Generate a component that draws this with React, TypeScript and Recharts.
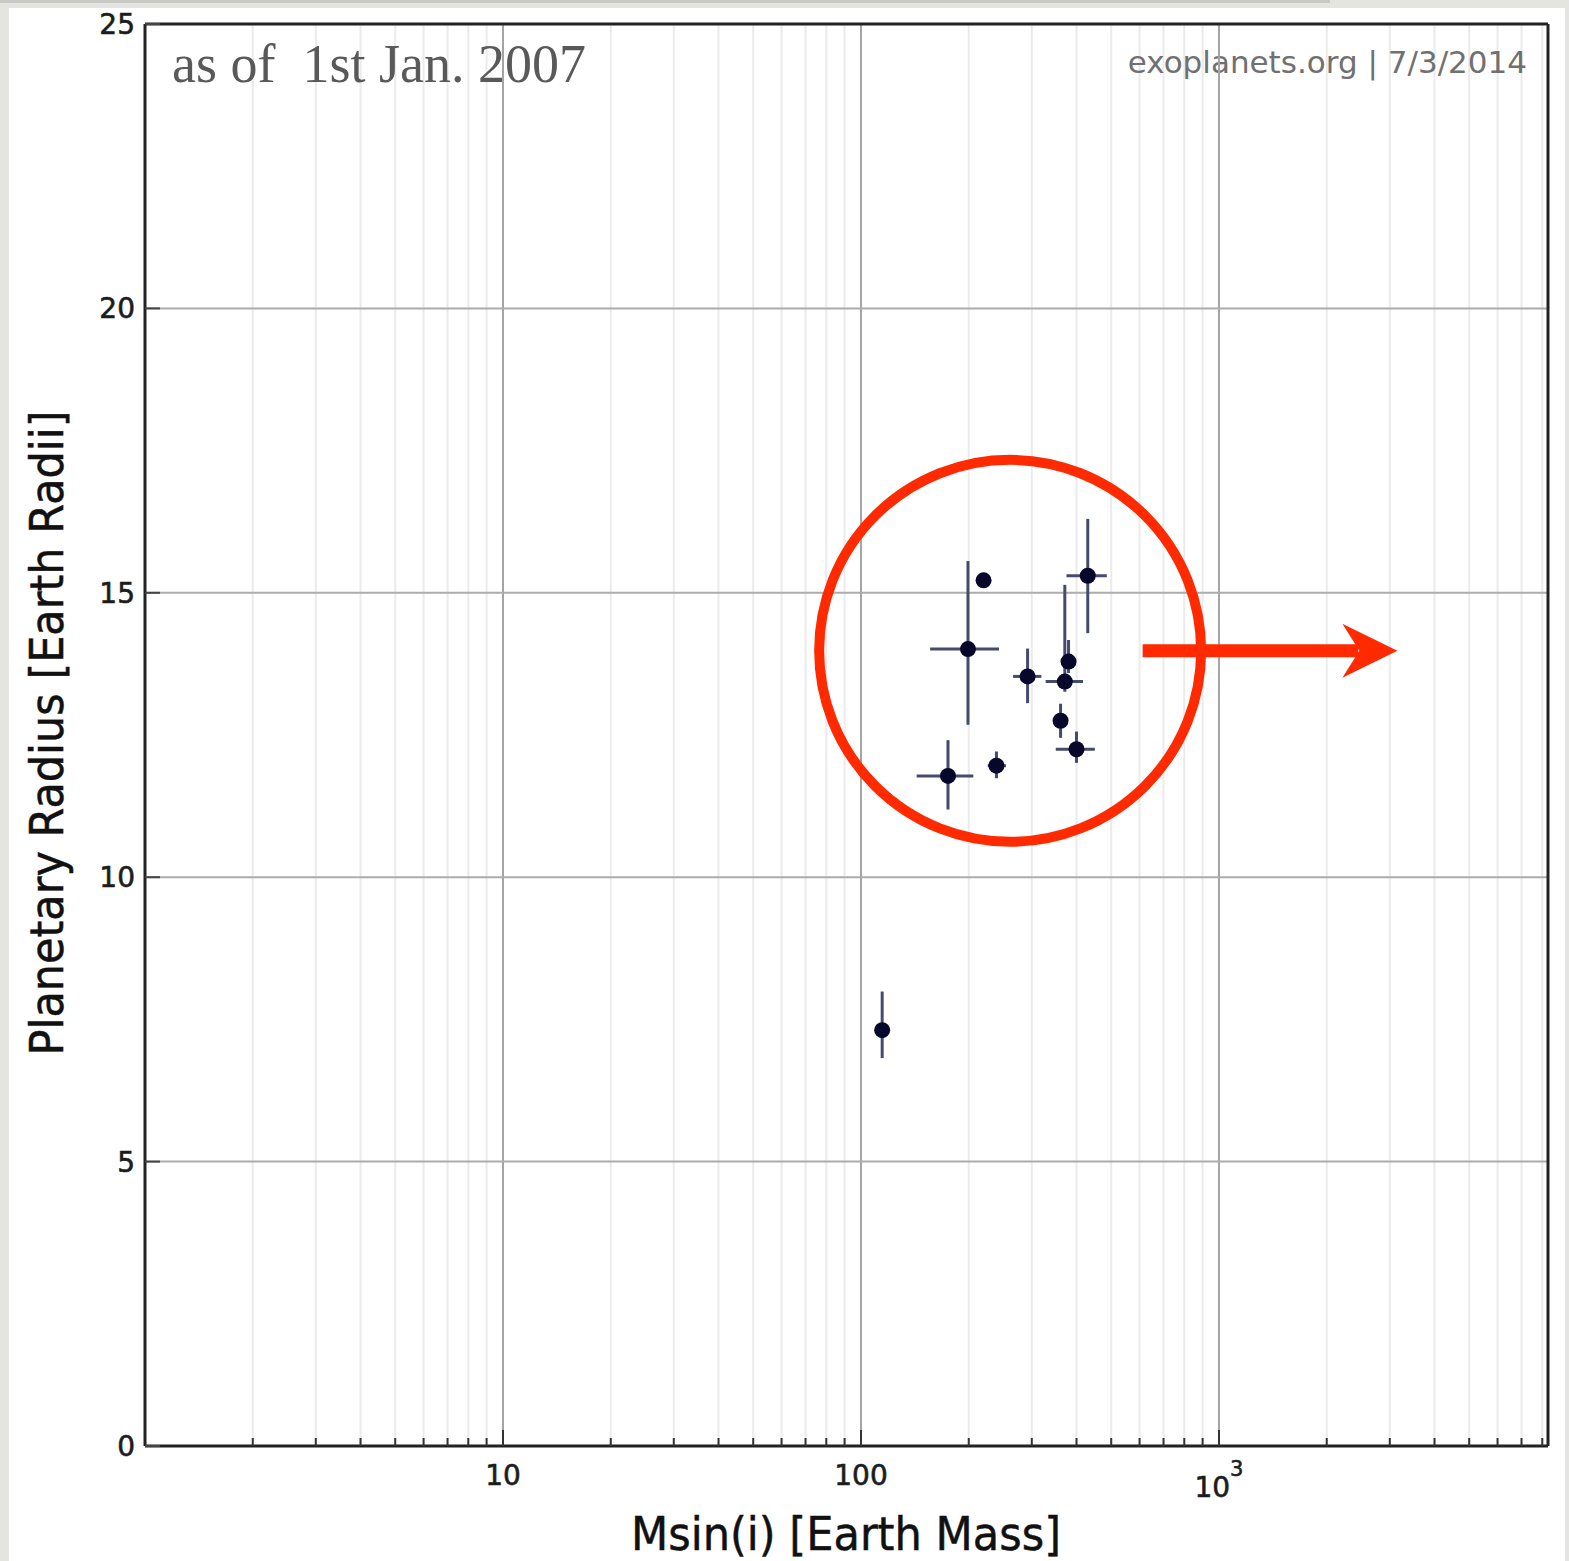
import {
  ScatterChart,
  Scatter,
  XAxis,
  YAxis,
  CartesianGrid,
  ErrorBar,
  ReferenceLine,
  ReferenceDot,
} from "recharts";

// planets known with both a mass and a radius, 1 Jan 2007
const mass = [114.6, 175, 199, 220, 239, 292, 361, 371, 380, 400, 430];
const radius = [7.31, 11.78, 14.01, 15.22, 11.96, 13.53, 12.75, 13.44, 13.79, 12.25, 15.3];
const massErrLow = [0, 32, 43, 0, 13, 26, 0, 43, 0, 50, 55];
const massErrHigh = [0, 31, 44, 0, 15, 27, 0, 46, 0, 50, 56];
const radiusErrLow = [0.49, 0.59, 1.33, 0, 0.22, 0.47, 0.3, 0.18, 0.2, 0.24, 1.01];
const radiusErrHigh = [0.68, 0.63, 1.55, 0, 0.25, 0.49, 0.3, 1.7, 0.38, 0.31, 1.0];

const massTicks = [
  2, 3, 4, 5, 6, 7, 8, 9, 10, 20, 30, 40, 50, 60, 70, 80, 90, 100, 200, 300, 400, 500, 600,
  700, 800, 900, 1000, 2000, 3000, 4000, 5000, 6000, 7000, 8000,
];
const majorMassTicks = [10, 100, 1000];
const radiusTicks = [0, 5, 10, 15, 20, 25];
const radiusGrid = [5, 10, 15, 20];

// red highlight ring and arrow, in data units
const ringCenter = { mass: 261, radius: 13.98 };
const arrowFrom = 612;
const arrowTo = 2450;
const arrowTip = 3150;

const data = mass.map((m, i) => ({
  mass: m,
  radius: radius[i],
  massErr: [massErrLow[i], massErrHigh[i]],
  radiusErr: [radiusErrLow[i], radiusErrHigh[i]],
}));

const W = 1569;
const H = 1561;
const tickFont = "'DejaVu Sans', Verdana, sans-serif";
const red = "#ff2a00";
const ink = "#1c1c1c";

const BottomTick = (props: any) => {
  const { x, y, payload } = props;
  const v = payload.value;
  const major = majorMassTicks.includes(v);
  let label = null;
  if (v === 1000) {
    label = (
      <text x={x} y={y + 51} textAnchor="middle" fontSize={28} fontFamily={tickFont} fill={ink} stroke={ink} strokeWidth={0.6}>
        10
        <tspan dy={-21} fontSize={21}>3</tspan>
      </text>
    );
  } else if (major) {
    label = (
      <text x={x} y={y + 39} textAnchor="middle" fontSize={28} fontFamily={tickFont} fill={ink} stroke={ink} strokeWidth={0.6}>
        {v}
      </text>
    );
  }
  return (
    <g>
      <line x1={x} y1={y} x2={x} y2={y - (major ? 16 : 8)} stroke="#333" strokeWidth={2} />
      {label}
    </g>
  );
};

const TopTick = (props: any) => {
  const { x, y, payload } = props;
  const major = majorMassTicks.includes(payload.value);
  return <line x1={x} y1={y} x2={x} y2={y + (major ? 16 : 8)} stroke="#333" strokeWidth={2} />;
};

const LeftTick = (props: any) => {
  const { x, y, payload } = props;
  return (
    <g>
      <line x1={x} y1={y} x2={x + 15} y2={y} stroke="#444" strokeWidth={2} />
      <text x={x - 10} y={y} dy="0.36em" textAnchor="end" fontSize={28} fontFamily={tickFont} fill={ink} stroke={ink} strokeWidth={0.6}>
        {payload.value}
      </text>
    </g>
  );
};

const RightTick = (props: any) => {
  const { x, y } = props;
  return <line x1={x} y1={y} x2={x - 15} y2={y} stroke="#444" strokeWidth={2} />;
};

const Planet = (p: any) => <circle cx={p.cx} cy={p.cy} r={8} fill="#07072b" />;

const ArrowHead = (p: any) => {
  const { cx, cy } = p;
  const pts = [
    [cx, cy],
    [cx - 55, cy - 27],
    [cx - 38, cy],
    [cx - 55, cy + 27],
  ]
    .map((q) => q.join(","))
    .join(" ");
  return <polygon points={pts} fill={red} />;
};

export default function App() {
  return (
    <div
      style={{
        position: "fixed",
        left: 0,
        top: 0,
        width: W,
        height: H,
        background: "#e4e4e0",
        overflow: "hidden",
      }}
    >
      <div style={{ position: "absolute", left: 0, top: 0, width: 1330, height: 3, background: "#c8c8c4" }} />
      <div style={{ position: "absolute", left: 9, top: 8, width: 1556, height: H - 8, background: "#fff" }} />
      <div style={{ position: "absolute", left: 0, top: 0 }}>
        <ScatterChart width={W} height={H} margin={{ top: 14, right: 11, bottom: 55, left: 85 }}>
          <CartesianGrid horizontal={false} stroke="#ebebeb" strokeWidth={2} />
          {majorMassTicks.map((v) => (
            <ReferenceLine key={"mx" + v} x={v} stroke="#a4a4a4" strokeWidth={2} />
          ))}
          {radiusGrid.map((v) => (
            <ReferenceLine key={"ry" + v} y={v} stroke="#acacac" strokeWidth={2} />
          ))}
          <XAxis
            dataKey="mass"
            type="number"
            scale="log"
            domain={[1, 8300]}
            allowDataOverflow
            ticks={massTicks}
            interval={0}
            height={60}
            tickSize={0}
            tickMargin={0}
            tickLine={false}
            tick={<BottomTick />}
            axisLine={{ stroke: "#222", strokeWidth: 3 }}
          />
          <XAxis
            xAxisId="top"
            orientation="top"
            type="number"
            scale="log"
            domain={[1, 8300]}
            allowDataOverflow
            ticks={massTicks}
            interval={0}
            height={10}
            tickSize={0}
            tickMargin={0}
            tickLine={false}
            tick={<TopTick />}
            axisLine={{ stroke: "#222", strokeWidth: 3 }}
          />
          <YAxis
            dataKey="radius"
            type="number"
            domain={[0, 25]}
            ticks={radiusTicks}
            interval={0}
            width={60}
            tickSize={0}
            tickMargin={0}
            tickLine={false}
            tick={<LeftTick />}
            axisLine={{ stroke: "#222", strokeWidth: 3 }}
          />
          <YAxis
            yAxisId="right"
            orientation="right"
            type="number"
            domain={[0, 25]}
            ticks={radiusTicks}
            interval={0}
            width={10}
            tickSize={0}
            tickMargin={0}
            tickLine={false}
            tick={<RightTick />}
            axisLine={{ stroke: "#222", strokeWidth: 3 }}
          />
          <Scatter data={data} shape={Planet} isAnimationActive={false}>
            <ErrorBar dataKey="massErr" direction="x" width={0} stroke="#464a6c" strokeWidth={3} isAnimationActive={false} />
            <ErrorBar dataKey="radiusErr" direction="y" width={0} stroke="#464a6c" strokeWidth={3} isAnimationActive={false} />
          </Scatter>
          <ReferenceDot
            x={ringCenter.mass}
            y={ringCenter.radius}
            r={191}
            fill="none"
            stroke={red}
            strokeWidth={10}
          />
          <ReferenceLine
            segment={[
              { x: arrowFrom, y: ringCenter.radius },
              { x: arrowTo, y: ringCenter.radius },
            ]}
            stroke={red}
            strokeWidth={13}
          />
          <ReferenceDot x={arrowTip} y={ringCenter.radius} shape={ArrowHead} />
          <text
            x={172}
            y={82}
            fontSize={54}
            fontFamily="'Liberation Serif', 'Times New Roman', serif"
            fill="#595959"
            style={{ whiteSpace: "pre" }}
          >
            {"as of  1st Jan. 2007"}
          </text>
          <text x={1527} y={73} textAnchor="end" fontSize={31} fontFamily={tickFont} fill="#707070">
            exoplanets.org | 7/3/2014
          </text>
          <text
            x={846}
            y={1550}
            textAnchor="middle"
            fontSize={46}
            fontFamily={tickFont}
            fill="#111"
            stroke="#111"
            strokeWidth={0.5}
            textLength={430}
            lengthAdjust="spacingAndGlyphs"
          >
            Msin(i) [Earth Mass]
          </text>
          <text
            x={0}
            y={0}
            transform="translate(63 733) rotate(-90)"
            textAnchor="middle"
            fontSize={46}
            fontFamily={tickFont}
            fill="#111"
            stroke="#111"
            strokeWidth={0.5}
            textLength={645}
            lengthAdjust="spacingAndGlyphs"
          >
            Planetary Radius [Earth Radii]
          </text>
        </ScatterChart>
      </div>
    </div>
  );
}
